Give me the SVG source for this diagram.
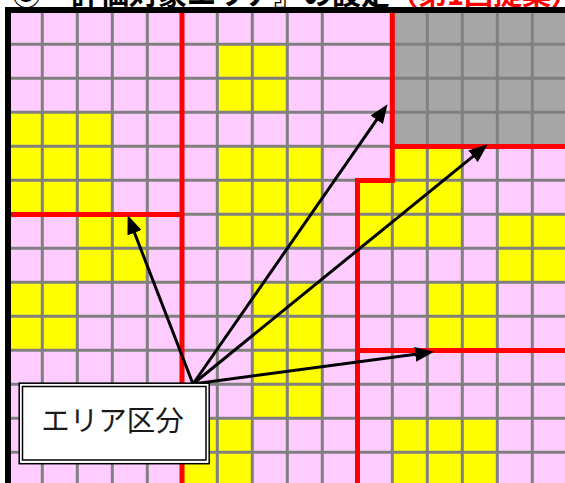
<svg xmlns="http://www.w3.org/2000/svg" width="565" height="483" viewBox="0 0 565 483">
  <style>
    .y { fill: #FFFF00; }
    .grid { stroke: #808080; stroke-width: 3; fill: none; }
    .red { stroke: #FF0000; stroke-width: 5; fill: none; stroke-linejoin: miter; }
    .conn { stroke: #000000; stroke-width: 3; fill: none; marker-end: url(#ah); }
    .title { font-family: "Noto Sans CJK JP", sans-serif; font-size: 29px; font-weight: bold; }
    .label { font-family: "Noto Sans CJK JP", sans-serif; font-size: 28.5px; fill: #1a1a1a; }
  </style>
  <defs>
    <marker id="ah" markerUnits="userSpaceOnUse" markerWidth="19" markerHeight="15" refX="8" refY="7.5" orient="auto">
      <path d="M0,0 L19,7.5 L0,15 z" fill="#000000"/>
    </marker>
  </defs>
  <rect width="565" height="483" fill="#FFFFFF"/>
  <text class="title" y="4.8"><tspan x="12" fill="#000000">③</tspan><tspan x="42" fill="#000000">『評価対象エリア』の設定</tspan><tspan x="389" fill="#FF0000">（第1回提案）</tspan></text>

  <g id="map">
    <rect x="11" y="13" width="554" height="470" fill="#FFCCFF"/>
    <rect x="392" y="13" width="173" height="133" fill="#A6A6A6"/>
    <rect class="y" x="217" y="44" width="70" height="68"/>
    <rect class="y" x="7" y="112" width="105" height="102"/>
    <rect class="y" x="217" y="146" width="105" height="102"/>
    <rect class="y" x="392" y="146" width="70" height="102"/>
    <rect class="y" x="357" y="180" width="35" height="68"/>
    <rect class="y" x="497" y="214" width="70" height="68"/>
    <rect class="y" x="77" y="214" width="70" height="68"/>
    <rect class="y" x="7" y="282" width="70" height="68"/>
    <rect class="y" x="252" y="282" width="70" height="136"/>
    <rect class="y" x="427" y="282" width="70" height="68"/>
    <rect class="y" x="182" y="418" width="70" height="68"/>
    <rect class="y" x="392" y="418" width="105" height="68"/>
    <path class="grid" d="M42.3,13V483M77.3,13V483M112.3,13V483M147.3,13V483M217.3,13V483M252.3,13V483M287.3,13V483M322.3,13V483M392.3,13V483M427.3,13V483M462.3,13V483M497.3,13V483M532.3,13V483"/>
    <path class="grid" d="M11,44.3H565M11,78.3H565M11,112.3H565M11,146.3H565M11,180.3H565M11,214.3H565M11,248.3H565M11,282.3H565M11,316.3H565M11,350.3H565M11,384.3H565M11,418.3H565M11,452.3H565"/>
    <path class="red" d="M182,13V483"/>
    <path class="red" d="M11,214.5H182"/>
    <path class="red" d="M392.3,13V180.5H357.5V483"/>
    <path class="red" d="M392.3,146.5H565"/>
    <path class="red" d="M357.5,350.5H565"/>
    <rect x="5" y="7" width="560" height="6" fill="#000000"/>
    <rect x="5" y="7" width="6" height="476" fill="#000000"/>
  </g>

  <g id="connectors">
    <line class="conn" x1="193" y1="384" x2="131.6" y2="225.3"/>
    <line class="conn" x1="193" y1="384" x2="381.3" y2="113.2"/>
    <line class="conn" x1="193" y1="384" x2="479.2" y2="151.3"/>
    <line class="conn" x1="193" y1="384" x2="423.1" y2="353.3"/>
  </g>

  <g id="area-label">
    <rect x="19.2" y="383.2" width="190" height="80.5" fill="#FFFFFF" stroke="#000000" stroke-width="1.5"/>
    <rect x="22.5" y="386.5" width="183.5" height="73.5" fill="none" stroke="#000000" stroke-width="1.5"/>
    <text class="label" x="112.5" y="431" text-anchor="middle">エリア区分</text>
  </g>
</svg>
